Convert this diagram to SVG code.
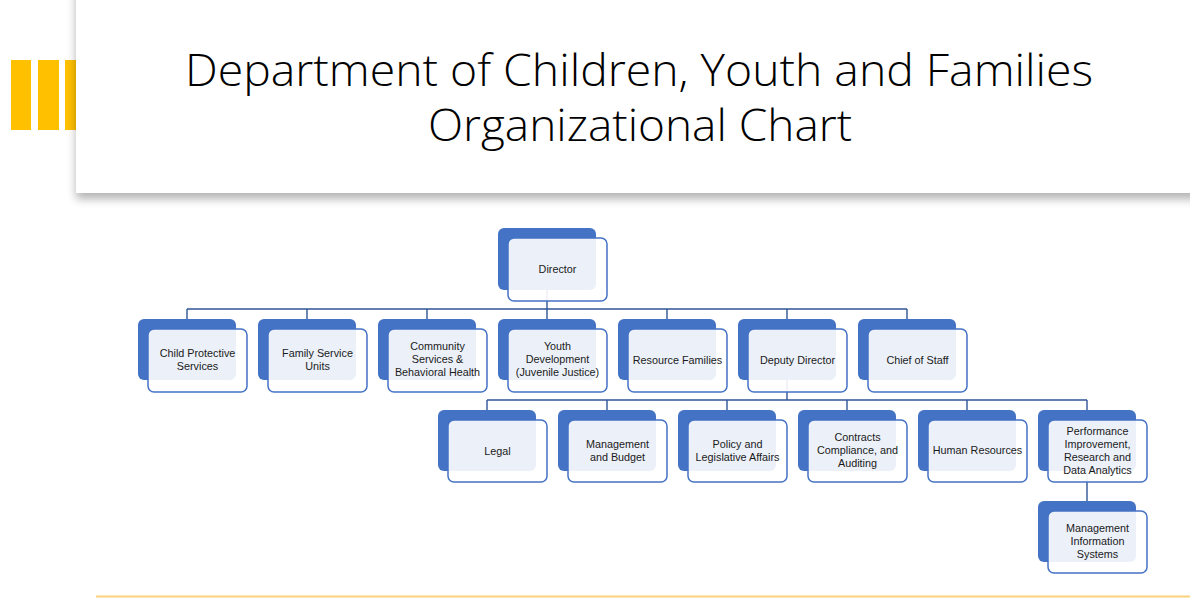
<svg xmlns="http://www.w3.org/2000/svg" width="1190" height="598" viewBox="0 0 1190 598">
  <defs>
    <filter id="panelShadow" x="-10%" y="-20%" width="130%" height="150%">
      <feGaussianBlur in="SourceAlpha" stdDeviation="5"/>
      <feOffset dx="0" dy="6"/>
      <feComponentTransfer><feFuncA type="linear" slope="0.3"/></feComponentTransfer>
      <feMerge><feMergeNode/><feMergeNode in="SourceGraphic"/></feMerge>
    </filter>
  </defs>
  <style>
    .back { fill: #4472C4; }
    .front { fill: #FFFFFF; fill-opacity: 0.9; stroke: #4472C4; stroke-width: 1.5; }
    .lbl { font-family: "Liberation Sans", Arial, sans-serif; font-size: 10.8px; fill: #1a1a1a; text-anchor: middle; }
    .conn { fill: none; stroke: #2F5597; stroke-width: 1.4; }
    .title { font-family: "Open Sans", Lato, sans-serif; font-weight: 300; font-size: 44px; fill: #000; text-anchor: middle; font-variant-ligatures: none; }
  </style>

  <rect x="0" y="0" width="1190" height="598" fill="#FFFFFF"/>

  <!-- accent bars -->
  <g id="accent" fill="#FFC000">
    <rect x="11" y="60" width="20" height="70"/>
    <rect x="38" y="60" width="21" height="70"/>
    <rect x="65" y="60" width="14" height="70"/>
  </g>

  <!-- title panel -->
  <g id="title">
    <rect x="76" y="-20" width="1134" height="213" fill="#FFFFFF" filter="url(#panelShadow)"/>
    <text class="title" x="639" y="86" textLength="908" lengthAdjust="spacingAndGlyphs">Department of Children, Youth and Families</text>
    <text class="title" x="640" y="141" textLength="424" lengthAdjust="spacingAndGlyphs">Organizational Chart</text>
  </g>

  <!-- connectors -->
  <g id="connectors">
    <path class="conn" d="M547 290 V309 M187 309 H907 M187 309 V319 M307 309 V319 M427 309 V319 M547 309 V319 M667 309 V319 M787 309 V319 M907 309 V319"/>
    <path class="conn" d="M787 380 V400 M487 400 H1087 M487 400 V410 M607 400 V410 M727 400 V410 M847 400 V410 M967 400 V410 M1087 400 V410"/>
    <path class="conn" d="M1087 471 V501"/>
  </g>

  <!-- nodes -->
  <g id="director">
    <rect class="back" x="498" y="228" width="98" height="62" rx="6"/>
    <rect class="front" x="508" y="238" width="99" height="63" rx="6"/>
    <text class="lbl" x="557.5" y="273">Director</text>
  </g>

  <g id="child-protective">
    <rect class="back" x="138" y="319" width="98" height="61" rx="6"/>
    <rect class="front" x="148" y="329" width="99" height="63" rx="6"/>
    <text class="lbl" x="197.5" y="357">Child Protective</text>
    <text class="lbl" x="197.5" y="370">Services</text>
  </g>

  <g id="family-service">
    <rect class="back" x="258" y="319" width="98" height="61" rx="6"/>
    <rect class="front" x="268" y="329" width="99" height="63" rx="6"/>
    <text class="lbl" x="317.5" y="357">Family Service</text>
    <text class="lbl" x="317.5" y="370">Units</text>
  </g>

  <g id="community-services">
    <rect class="back" x="378" y="319" width="98" height="61" rx="6"/>
    <rect class="front" x="388" y="329" width="99" height="63" rx="6"/>
    <text class="lbl" x="437.5" y="350">Community</text>
    <text class="lbl" x="437.5" y="363">Services &amp;</text>
    <text class="lbl" x="437.5" y="376">Behavioral Health</text>
  </g>

  <g id="youth-development">
    <rect class="back" x="498" y="319" width="98" height="61" rx="6"/>
    <rect class="front" x="508" y="329" width="99" height="63" rx="6"/>
    <text class="lbl" x="557.5" y="350">Youth</text>
    <text class="lbl" x="557.5" y="363">Development</text>
    <text class="lbl" x="557.5" y="376">(Juvenile Justice)</text>
  </g>

  <g id="resource-families">
    <rect class="back" x="618" y="319" width="98" height="61" rx="6"/>
    <rect class="front" x="628" y="329" width="99" height="63" rx="6"/>
    <text class="lbl" x="677.5" y="364">Resource Families</text>
  </g>

  <g id="deputy-director">
    <rect class="back" x="738" y="319" width="98" height="61" rx="6"/>
    <rect class="front" x="748" y="329" width="99" height="63" rx="6"/>
    <text class="lbl" x="797.5" y="364">Deputy Director</text>
  </g>

  <g id="chief-of-staff">
    <rect class="back" x="858" y="319" width="98" height="61" rx="6"/>
    <rect class="front" x="868" y="329" width="99" height="63" rx="6"/>
    <text class="lbl" x="917.5" y="364">Chief of Staff</text>
  </g>

  <g id="legal">
    <rect class="back" x="438" y="410" width="98" height="61" rx="6"/>
    <rect class="front" x="448" y="420" width="99" height="62" rx="6"/>
    <text class="lbl" x="497.5" y="455">Legal</text>
  </g>

  <g id="management-budget">
    <rect class="back" x="558" y="410" width="98" height="61" rx="6"/>
    <rect class="front" x="568" y="420" width="99" height="62" rx="6"/>
    <text class="lbl" x="617.5" y="448">Management</text>
    <text class="lbl" x="617.5" y="461">and Budget</text>
  </g>

  <g id="policy-legislative">
    <rect class="back" x="678" y="410" width="98" height="61" rx="6"/>
    <rect class="front" x="688" y="420" width="99" height="62" rx="6"/>
    <text class="lbl" x="737.5" y="448">Policy and</text>
    <text class="lbl" x="737.5" y="461">Legislative Affairs</text>
  </g>

  <g id="contracts-compliance">
    <rect class="back" x="798" y="410" width="98" height="61" rx="6"/>
    <rect class="front" x="808" y="420" width="99" height="62" rx="6"/>
    <text class="lbl" x="857.5" y="441">Contracts</text>
    <text class="lbl" x="857.5" y="454">Compliance, and</text>
    <text class="lbl" x="857.5" y="467">Auditing</text>
  </g>

  <g id="human-resources">
    <rect class="back" x="918" y="410" width="98" height="61" rx="6"/>
    <rect class="front" x="928" y="420" width="99" height="62" rx="6"/>
    <text class="lbl" x="977.5" y="454">Human Resources</text>
  </g>

  <g id="performance-improvement">
    <rect class="back" x="1038" y="410" width="98" height="61" rx="6"/>
    <rect class="front" x="1048" y="420" width="99" height="62" rx="6"/>
    <text class="lbl" x="1097.5" y="435">Performance</text>
    <text class="lbl" x="1097.5" y="448">Improvement,</text>
    <text class="lbl" x="1097.5" y="461">Research and</text>
    <text class="lbl" x="1097.5" y="474">Data Analytics</text>
  </g>

  <g id="management-information">
    <rect class="back" x="1038" y="501" width="98" height="61" rx="6"/>
    <rect class="front" x="1048" y="511" width="99" height="62" rx="6"/>
    <text class="lbl" x="1097.5" y="532">Management</text>
    <text class="lbl" x="1097.5" y="545">Information</text>
    <text class="lbl" x="1097.5" y="558">Systems</text>
  </g>

  <!-- footer rule -->
  <rect id="footer-rule" x="96" y="595.5" width="1094" height="2" fill="#F9D27A"/>
</svg>
